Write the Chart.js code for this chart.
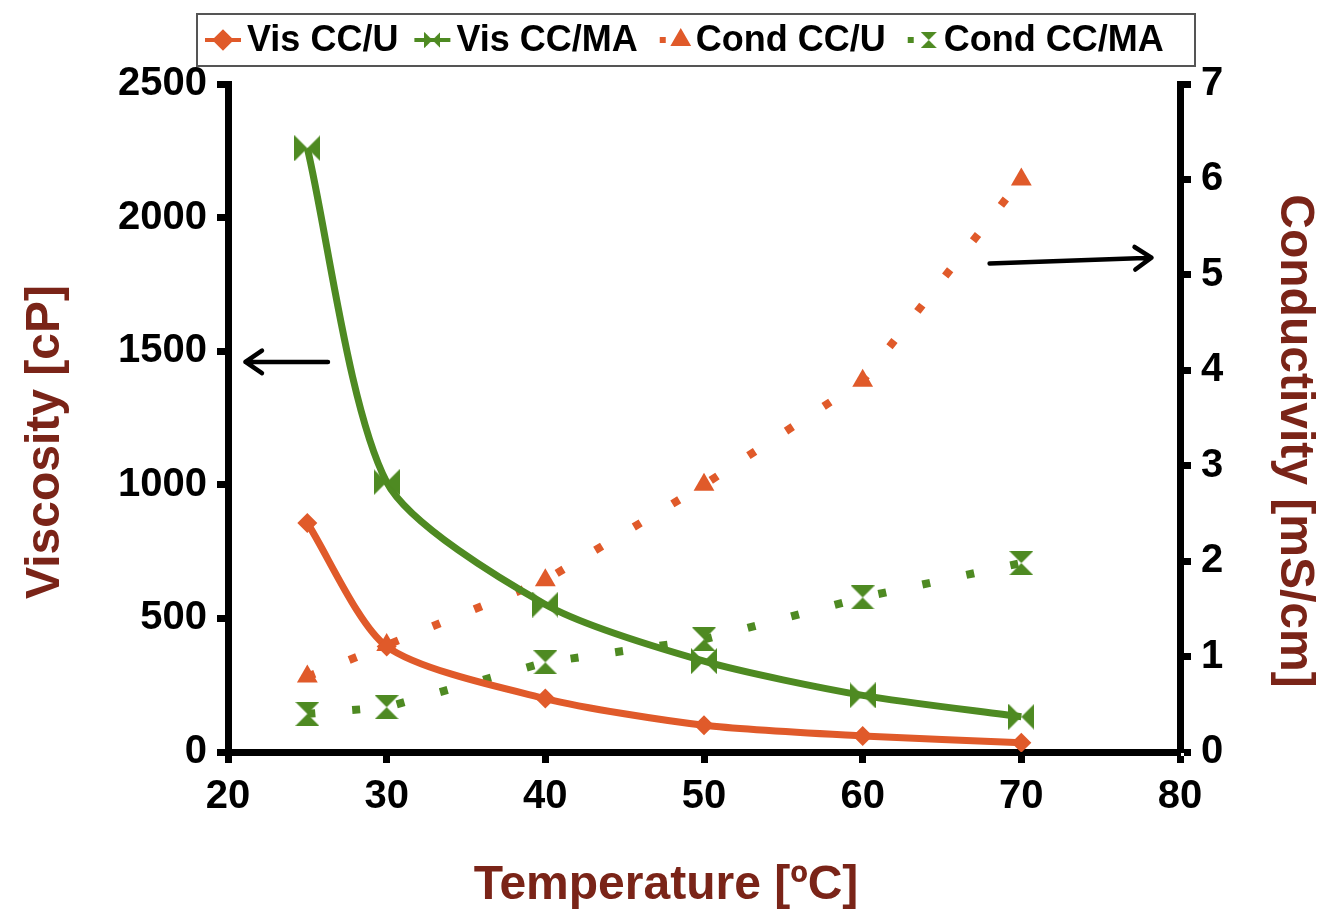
<!DOCTYPE html>
<html>
<head>
<meta charset="utf-8">
<script src="https://cdn.jsdelivr.net/npm/chart.js@4"></script>
<style>
  body { margin: 0; background: #fff; }
  canvas { display: block; }
</style>
</head>
<body>
<canvas id="viscond" width="1330" height="915"></canvas>
<script>
const temps = [25, 30, 40, 50, 60, 70];
const visCCU = [857, 395, 200, 100, 60, 35];
const visCCMA = [2260, 1010, 552, 340, 212, 132];
const condCCU = [0.79, 1.12, 1.80, 2.80, 3.89, 6.0];
const condCCMA = [0.40, 0.47, 0.94, 1.18, 1.62, 1.98];

const xTicks = [20, 30, 40, 50, 60, 70, 80];
const visTicks = [0, 500, 1000, 1500, 2000, 2500];
const condTicks = [0, 1, 2, 3, 4, 5, 6, 7];

const ORANGE = '#e05a2a';
const GREEN = '#4e8a22';
const TITLE = '#7a2418';
const FONT = '"Liberation Sans", Arial, sans-serif';

// arrows pointing at the axis each curve belongs to (data coords)
const arrows = [
    { axis: 'y', from: [26.3, 1460], to: [21.1, 1460] },
    { axis: 'y1', from: [68.0, 5.12], to: [78.2, 5.18] }
];

function makeHourglass(color, size, horizontal) {
    const c = document.createElement('canvas');
    c.width = size;
    c.height = size;
    const g = c.getContext('2d');
    g.fillStyle = color;
    const m = size / 2;
    g.beginPath();
    if (horizontal) {
        g.moveTo(0, 0); g.lineTo(m, m); g.lineTo(0, size); g.closePath();
        g.moveTo(size, 0); g.lineTo(m, m); g.lineTo(size, size); g.closePath();
    } else {
        g.moveTo(0, 0); g.lineTo(size, 0); g.lineTo(m, m); g.closePath();
        g.moveTo(0, size); g.lineTo(size, size); g.lineTo(m, m); g.closePath();
    }
    g.fill();
    return c;
}

const bowtie = makeHourglass(GREEN, 26, true);
const hourglass = makeHourglass(GREEN, 24, false);

function pts(ys) {
    return temps.map((t, i) => ({ x: t, y: ys[i] }));
}

const axisTitles = {
    id: 'axisTitles',
    afterDraw(chart) {
        const ctx = chart.ctx;
        ctx.save();
        ctx.fillStyle = TITLE;
        ctx.font = 'bold 48px ' + FONT;
        ctx.textAlign = 'center';
        ctx.textBaseline = 'middle';
        ctx.fillText('Temperature [ºC]', 666, 886);
        ctx.save();
        ctx.translate(46, 442);
        ctx.rotate(-Math.PI / 2);
        ctx.fillText('Viscosity [cP]', 0, 0);
        ctx.restore();
        ctx.save();
        ctx.translate(1294, 441);
        ctx.rotate(Math.PI / 2);
        ctx.fillText('Conductivity [mS/cm]', 0, 0);
        ctx.restore();
        ctx.restore();
    }
};

const arrowPlugin = {
    id: 'arrowPlugin',
    afterDraw(chart) {
        const ctx = chart.ctx;
        const xs = chart.scales.x;
        ctx.save();
        ctx.strokeStyle = '#000';
        ctx.lineWidth = 4.5;
        ctx.lineCap = 'round';
        arrows.forEach(a => {
            const ys = chart.scales[a.axis];
            const x1 = xs.getPixelForValue(a.from[0]), y1 = ys.getPixelForValue(a.from[1]);
            const x2 = xs.getPixelForValue(a.to[0]), y2 = ys.getPixelForValue(a.to[1]);
            const ang = Math.atan2(y2 - y1, x2 - x1);
            ctx.beginPath();
            ctx.moveTo(x1, y1);
            ctx.lineTo(x2, y2);
            [-0.6, 0.6].forEach(d => {
                ctx.moveTo(x2, y2);
                ctx.lineTo(x2 - 20 * Math.cos(ang + d), y2 - 20 * Math.sin(ang + d));
            });
            ctx.stroke();
        });
        ctx.restore();
    }
};

const boxLegend = {
    id: 'boxLegend',
    afterDraw(chart) {
        const ctx = chart.ctx;
        ctx.save();
        ctx.strokeStyle = '#555';
        ctx.lineWidth = 2;
        ctx.strokeRect(197, 14, 998, 52);
        ctx.font = 'bold 36px ' + FONT;
        ctx.textBaseline = 'middle';
        ctx.textAlign = 'left';
        let x = 205;
        const y = 40;
        chart.data.datasets.forEach(ds => {
            const dotted = !!ds.borderDash;
            ctx.strokeStyle = ds.borderColor;
            ctx.fillStyle = ds.borderColor;
            if (dotted) {
                ctx.fillRect(x + 6, y - 3, 6, 6);
            } else {
                ctx.lineWidth = 4;
                ctx.beginPath();
                ctx.moveTo(x, y);
                ctx.lineTo(x + 36, y);
                ctx.stroke();
            }
            const mx = dotted ? x + 27 : x + 18;
            if (ds.pointStyle instanceof HTMLCanvasElement) {
                ctx.drawImage(ds.pointStyle, mx - 8, y - 8, 16, 16);
            } else {
                Chart.helpers.drawPoint(ctx, { pointStyle: ds.pointStyle, radius: 8, rotation: 0, borderWidth: 1 }, mx, y);
            }
            ctx.fillStyle = '#000';
            ctx.fillText(ds.label, x + 42, y + 1);
            x += 42 + ctx.measureText(ds.label).width + 16;
        });
        ctx.restore();
    }
};

function axisStyle(ticks, extra) {
    return Object.assign({
        type: 'linear',
        min: ticks[0],
        max: ticks[ticks.length - 1],
        afterBuildTicks: s => { s.ticks = ticks.map(v => ({ value: v })); },
        ticks: {
            color: '#000',
            font: { family: FONT, size: 40, weight: 'bold' },
            padding: 10,
            maxRotation: 0,
            callback: v => String(v)
        },
        border: { display: true, color: '#000', width: 7 },
        grid: { drawOnChartArea: false, drawTicks: true, tickLength: 11, tickWidth: 7, tickColor: '#000' }
    }, extra);
}

const ctx = document.getElementById('viscond').getContext('2d');

new Chart(ctx, {
    type: 'line',
    data: {
        datasets: [
            {
                label: 'Vis CC/U',
                data: pts(visCCU),
                yAxisID: 'y',
                borderColor: ORANGE,
                backgroundColor: ORANGE,
                borderWidth: 7,
                tension: 0.25,
                pointStyle: 'rectRot',
                pointRadius: 10,
                pointBorderWidth: 0
            },
            {
                label: 'Vis CC/MA',
                data: pts(visCCMA),
                yAxisID: 'y',
                borderColor: GREEN,
                backgroundColor: GREEN,
                borderWidth: 7,
                tension: 0.25,
                pointStyle: bowtie,
                pointRadius: 13
            },
            {
                label: 'Cond CC/U',
                data: pts(condCCU),
                yAxisID: 'y1',
                borderColor: ORANGE,
                backgroundColor: ORANGE,
                borderWidth: 8,
                borderDash: [8, 37],
                tension: 0,
                pointStyle: 'triangle',
                pointRadius: 12,
                pointBorderWidth: 0
            },
            {
                label: 'Cond CC/MA',
                data: pts(condCCMA),
                yAxisID: 'y1',
                borderColor: GREEN,
                backgroundColor: GREEN,
                borderWidth: 8,
                borderDash: [8, 37],
                tension: 0,
                pointStyle: hourglass,
                pointRadius: 12
            }
        ]
    },
    options: {
        responsive: false,
        animation: false,
        layout: { padding: { top: 84, left: 0, right: 0, bottom: 0 } },
        plugins: {
            legend: { display: false },
            tooltip: { enabled: false }
        },
        scales: {
            x: axisStyle(xTicks, {
                position: 'bottom',
                afterFit: s => { s.height = 163; }
            }),
            y: axisStyle(visTicks, {
                position: 'left',
                afterFit: s => { s.width = 228; }
            }),
            y1: axisStyle(condTicks, {
                position: 'right',
                afterFit: s => { s.width = 150; }
            })
        }
    },
    plugins: [axisTitles, arrowPlugin, boxLegend]
});
</script>
</body>
</html>
